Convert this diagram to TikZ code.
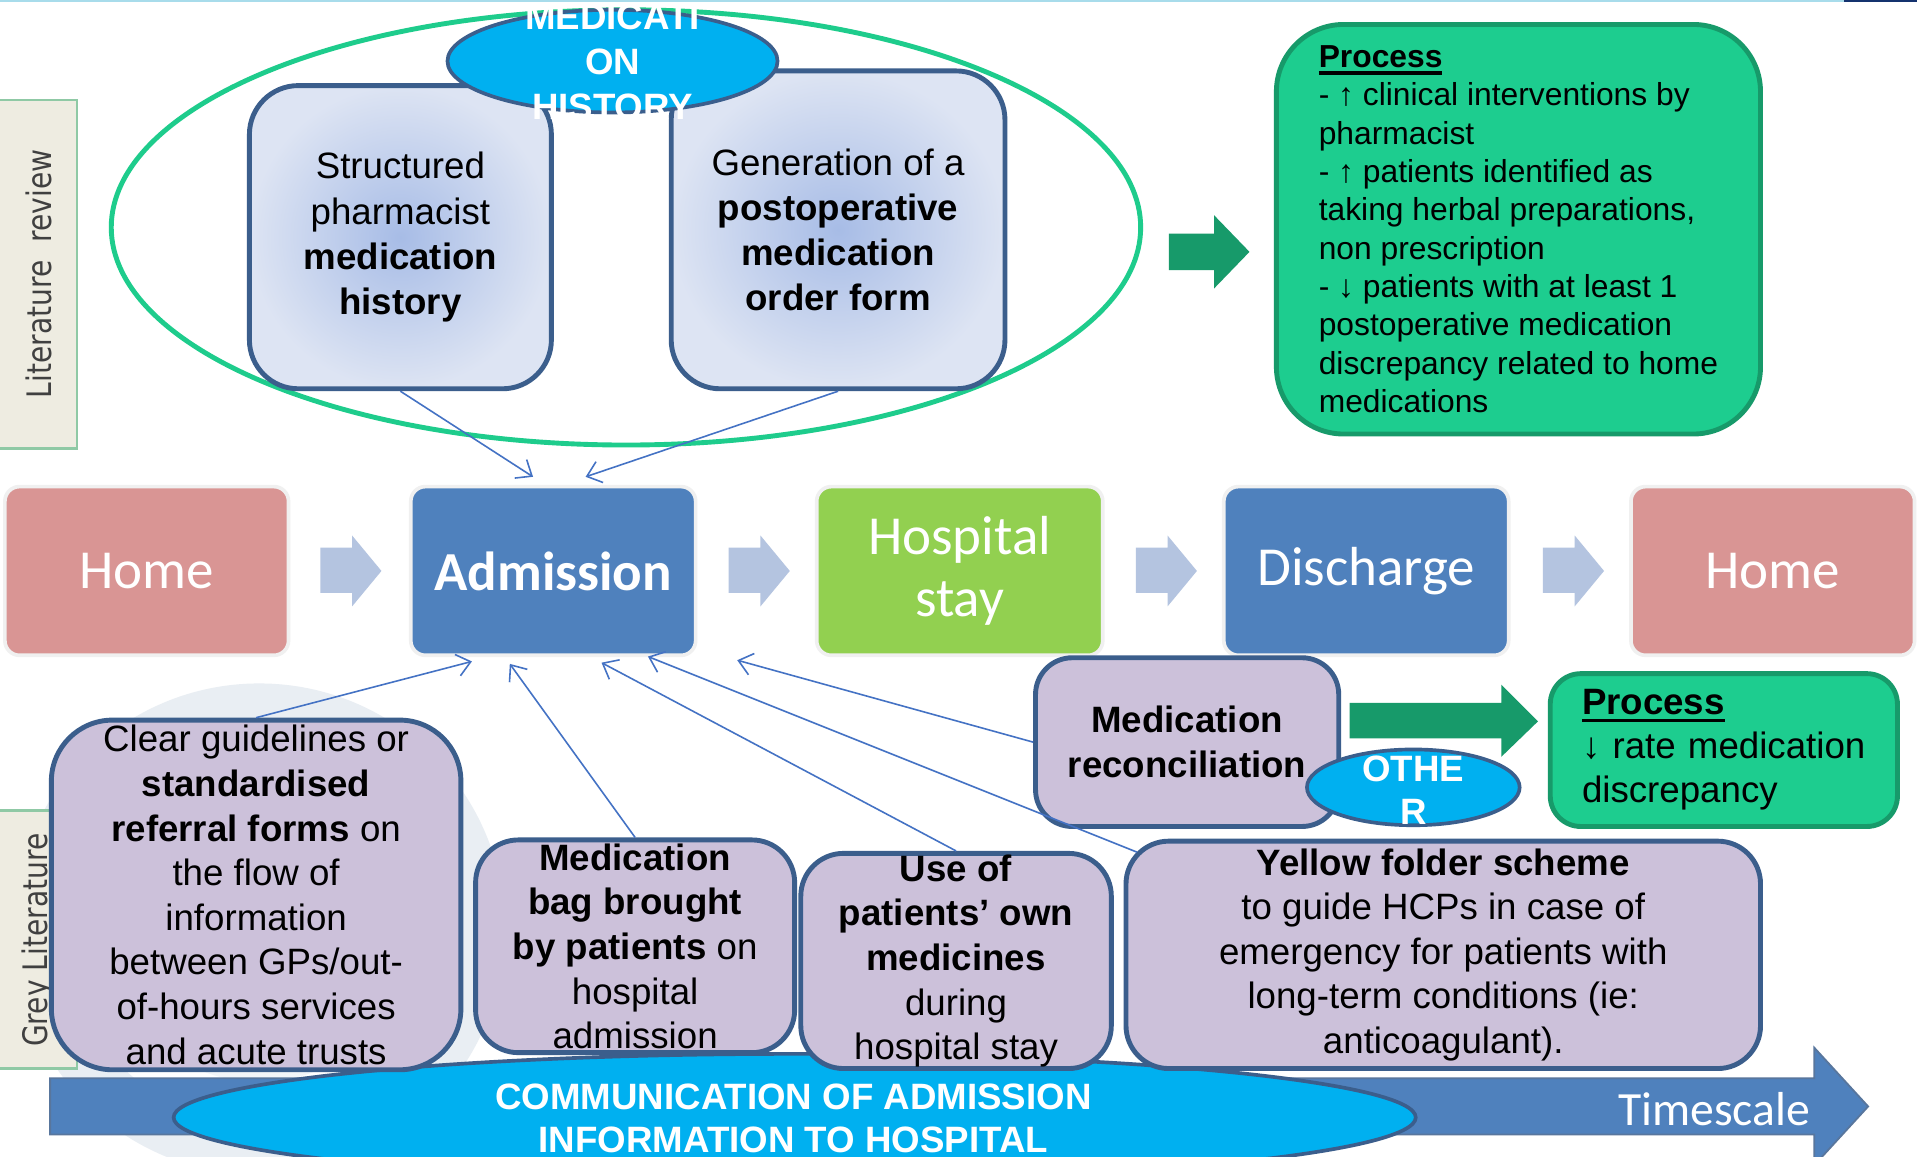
\documentclass[tikz,border=0pt]{standalone}
\usepackage{fontspec}
\setmainfont{Liberation Sans}
\newfontfamily\calfont{Carlito}
\newfontfamily\verfont{DejaVu Sans}
\usetikzlibrary{shapes.geometric,arrows.meta,calc}
\definecolor{edgeblue}{RGB}{59,94,140}
\definecolor{lav}{RGB}{204,193,218}
\definecolor{mint}{RGB}{29,205,143}
\definecolor{mintdark}{RGB}{23,154,106}
\definecolor{cyanfill}{RGB}{0,176,240}
\definecolor{ringgreen}{RGB}{30,204,140}
\definecolor{tlpink}{RGB}{217,149,148}
\definecolor{tlblue}{RGB}{79,129,189}
\definecolor{tlgreen}{RGB}{146,208,80}
\definecolor{chev}{RGB}{180,196,224}
\definecolor{thinblue}{RGB}{68,114,196}
\definecolor{beige}{RGB}{238,236,225}
\definecolor{sidegreen}{RGB}{143,201,165}
\definecolor{sidetext}{RGB}{64,64,64}
\definecolor{gradin}{RGB}{167,188,230}
\definecolor{gradout}{RGB}{221,228,243}
\definecolor{wmark}{RGB}{233,238,243}
\definecolor{topcyan}{RGB}{168,220,235}
\definecolor{navy}{RGB}{20,50,110}
\newcommand\thickul[1]{\setbox0=\hbox{#1}\rlap{\rule[-6pt]{\wd0}{3pt}}\box0}
\begin{document}
\begin{tikzpicture}[x=1pt,y=-1pt,
  topbox/.style={draw=edgeblue, line width=4pt, rounded corners=40pt, inner color=gradin, outer color=gradout, align=center, inner sep=0pt, font=\fontsize{30}{37}\selectfont},
  lavbox/.style={draw=edgeblue, line width=4pt, rounded corners=35pt, fill=lav, align=center, inner sep=0pt, font=\fontsize{30}{36.5}\selectfont},
  procbox/.style={draw=mintdark, line width=4pt, fill=mint, align=left},
  tlbox/.style={rounded corners=12pt, draw=black!6, line width=3pt, text=white, minimum height=138pt, inner sep=0pt, align=center, font=\calfont\fontsize{45}{51}\selectfont},
  cyanell/.style={ellipse, draw=edgeblue, line width=3pt, fill=cyanfill, inner sep=0pt},
  whitelbl/.style={text=white, align=center, inner sep=0pt, font=\bfseries\fontsize{30}{36.5}\selectfont},
  thinarrow/.style={draw=thinblue, line width=1.3pt, -{Straight Barb[length=11pt,width=18pt,line width=1.3pt]}},
  sidebox/.style={fill=beige, draw=sidegreen, line width=2pt},
  sidelbl/.style={rotate=90, text=sidetext, inner sep=0pt, font=\verfont\fontsize{23}{23}\selectfont}
]
\useasboundingbox (0,0) rectangle (1568,946);
\clip (0,0) rectangle (1568,946);
\fill[white] (0,0) rectangle (1568,946);
% top rule
\fill[topcyan] (0,0) rectangle (1508,1.6);
\fill[navy] (1508,0) rectangle (1568,1.6);
% watermark ring
\draw[wmark, line width=42pt] (212,760) circle [radius=180pt];
\draw[wmark!60, line width=10pt] (212,760) circle [radius=120pt];
% side labels
\node[sidebox, minimum width=64pt, minimum height=285pt, inner sep=0pt] (litbox) at (31,224.5) {};
\node[sidelbl] (littxt) at (32,224) {\scalebox{1}[1.2]{Literature\ \ review}};
\node[sidebox, minimum width=64pt, minimum height=211pt, inner sep=0pt] (greybox) at (31,768.5) {};
\node[sidelbl] (greytxt) at (31,769) {\scalebox{1}[1.2]{Grey Literature}};
% big green ellipse
\node[ellipse, draw=ringgreen, line width=4pt, minimum width=842pt, minimum height=356pt, inner sep=0pt] (grp) at (512,186) {};
% top boxes
\node[topbox, minimum width=247pt, minimum height=248pt] (smh) at (327.5,194) {Structured\\pharmacist\\\textbf{medication}\\\textbf{history}};
\node[topbox, minimum width=273pt, minimum height=260pt] (gen) at (685.5,188) {Generation of a\\\textbf{postoperative}\\\textbf{medication}\\\textbf{order form}};
% medication history ellipse
\node[cyanell, minimum width=270pt, minimum height=84pt] (medh) at (501,50) {};
\node[whitelbl, font=\bfseries\fontsize{30}{36.8}\selectfont] (medhtxt) at (501,51) {MEDICATI\\ON\\HISTORY};
% top green arrow and process box
\fill[mintdark] (956,191) -- (993,191) -- (993,176) -- (1022,206) -- (993,236) -- (993,221) -- (956,221) -- cycle;
\node[procbox, rounded corners=55pt, minimum width=396pt, minimum height=335pt, inner sep=0pt, font=\fontsize{26}{31.4}\selectfont] (procT) at (1242,187.5) {\thickul{\textbf{Process}}\\
- ↑ clinical interventions by\\
pharmacist\\
- ↑ patients identified as\\
taking herbal preparations,\\
non prescription\\
- ↓ patients with at least 1\\
postoperative medication\\
discrepancy related to home\\
medications};
% timeline
\node[tlbox, fill=tlpink, minimum width=232pt] (home1) at (120,467) {Home};
\node[tlbox, fill=tlblue, minimum width=233pt, font=\calfont\bfseries\fontsize{45}{51}\selectfont] (adm) at (452.5,467) {Admission};
\node[tlbox, fill=tlgreen, minimum width=234pt] (hosp) at (785,467) {Hospital\\stay};
\node[tlbox, fill=tlblue, minimum width=233pt] (dis) at (1117.5,467) {Discharge};
\node[tlbox, fill=tlpink, minimum width=232pt] (home2) at (1450,467) {Home};
\foreach \cx in {262,596,929,1262}{
  \fill[chev, shift={(\cx,0)}] (0,448) -- (26,448) -- (26,438) -- (50,467) -- (26,496) -- (26,485) -- (0,485) -- cycle;
}
% top thin arrows
\coordinate (admT1) at (436,390);
\coordinate (admT2) at (479,390);
\draw[thinarrow] (smh.south) -- (admT1);
\draw[thinarrow] (gen.south) -- (admT2);
% timescale arrow
\filldraw[fill=tlblue, draw=edgeblue!85, line width=1.5pt] (41,882) -- (1484,882) -- (1484,857) -- (1528,905) -- (1484,953) -- (1484,928) -- (41,928) -- cycle;
\node[text=white, inner sep=0pt, font=\calfont\fontsize{39}{39}\selectfont] (tscale) at (1402,907) {Timescale};
% communication ellipse
\node[cyanell, minimum width=1016pt, minimum height=104pt] (comm) at (650,914) {};
\node[whitelbl, font=\bfseries\fontsize{30}{35}\selectfont] (commtxt) at (649,915) {COMMUNICATION OF ADMISSION\\INFORMATION TO HOSPITAL};
% bottom boxes
\node[lavbox, rounded corners=50pt, minimum width=335pt, minimum height=286pt] (clear) at (209.5,732) {Clear guidelines or\\\textbf{standardised}\\\textbf{referral forms} on\\the flow of\\information\\between GPs/out-\\of-hours services\\and acute trusts};
\node[lavbox, minimum width=261pt, minimum height=174pt] (bag) at (519.5,774) {\textbf{Medication}\\\textbf{bag brought}\\\textbf{by patients} on\\hospital\\admission};
\node[lavbox, minimum width=254pt, minimum height=176pt] (own) at (782,786) {\textbf{Use of}\\\textbf{patients’ own}\\\textbf{medicines}\\during\\hospital stay};
\node[lavbox, minimum width=519pt, minimum height=186pt] (yel) at (1180.5,781) {\textbf{Yellow folder scheme}\\to guide HCPs in case of\\emergency for patients with\\long-term conditions (ie:\\anticoagulant).};
\node[lavbox, rounded corners=30pt, minimum width=248pt, minimum height=138pt, font=\bfseries\fontsize{30}{37}\selectfont] (rec) at (971,607) {Medication\\reconciliation};
\node[cyanell, minimum width=174pt, minimum height=62pt] (other) at (1156,644) {};
\node[whitelbl, font=\bfseries\fontsize{30}{35}\selectfont] (othertxt) at (1156,646) {OTHE\\R};
\fill[mintdark] (1104,575) -- (1228,575) -- (1228,560) -- (1258,590) -- (1228,619) -- (1228,604) -- (1104,604) -- cycle;
\node[procbox, rounded corners=25pt, minimum width=284pt, minimum height=125pt, text width=232pt, inner xsep=26pt, inner ysep=0pt, font=\fontsize{30}{36}\selectfont] (procB) at (1410,613.5) {\thickul{\textbf{Process}}\\↓ rate medication\\discrepancy};
% bottom thin arrows
\coordinate (admB1) at (386,541);
\coordinate (admB2) at (417,543);
\coordinate (admB3) at (492,542);
\coordinate (admB4) at (530,537);
\coordinate (admB5) at (603,540);
\coordinate (yelC) at (930,697);
\draw[thinarrow] (clear.north) -- (admB1);
\draw[thinarrow] (bag.north) -- (admB2);
\draw[thinarrow] (own.north) -- (admB3);
\draw[thinarrow] (yelC) -- (admB4);
\draw[thinarrow] (rec.west) -- (admB5);
\end{tikzpicture}
\end{document}
